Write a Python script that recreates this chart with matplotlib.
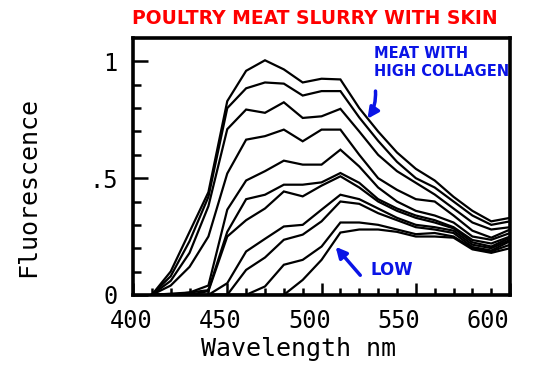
import matplotlib
matplotlib.use("Agg")
import matplotlib.pyplot as plt
import matplotlib.transforms as mtransforms
import numpy as np

# wavelength grid (nm)
wavelength = [410, 420, 430, 440, 450, 460, 470, 480, 490, 500, 510,
              520, 530, 540, 550, 560, 570, 580, 590, 600]

# fluorescence spectra, highest collagen first
c1 = [0, 0.10, 0.27, 0.44, 0.83, 0.96, 1.005, 0.966, 0.91, 0.926, 0.923,
      0.80, 0.70, 0.61, 0.54, 0.49, 0.42, 0.36, 0.315, 0.33]
c2 = [0, 0.08, 0.23, 0.42, 0.80, 0.885, 0.91, 0.905, 0.854, 0.873, 0.873,
      0.76, 0.66, 0.57, 0.50, 0.46, 0.40, 0.34, 0.30, 0.315]
c3 = [0, 0.06, 0.18, 0.38, 0.71, 0.794, 0.78, 0.825, 0.758, 0.765, 0.797,
      0.70, 0.60, 0.53, 0.48, 0.43, 0.37, 0.31, 0.28, 0.29]
c4 = [0, 0.04, 0.12, 0.25, 0.52, 0.665, 0.68, 0.708, 0.658, 0.708, 0.708,
      0.60, 0.50, 0.45, 0.41, 0.40, 0.34, 0.275, 0.245, 0.28]
c5 = [0, 0.005, 0.01, 0.04, 0.365, 0.49, 0.53, 0.575, 0.558, 0.558, 0.622,
      0.55, 0.46, 0.40, 0.36, 0.34, 0.31, 0.25, 0.236, 0.265]
c6 = [0, 0, 0.01, 0.02, 0.27, 0.41, 0.429, 0.472, 0.472, 0.482, 0.522,
      0.48, 0.41, 0.37, 0.34, 0.32, 0.29, 0.235, 0.22, 0.25]
c7 = [0, 0, 0, 0.016, 0.25, 0.32, 0.37, 0.443, 0.422, 0.468, 0.508,
      0.46, 0.40, 0.36, 0.33, 0.31, 0.285, 0.225, 0.207, 0.245]
c8 = [0, 0, 0, 0, 0.05, 0.186, 0.24, 0.293, 0.30, 0.365, 0.429,
      0.41, 0.37, 0.33, 0.30, 0.29, 0.275, 0.215, 0.20, 0.236]
c9 = [0, 0, 0, 0, 0, 0.107, 0.16, 0.236, 0.258, 0.315, 0.40,
      0.39, 0.35, 0.32, 0.29, 0.28, 0.265, 0.205, 0.19, 0.23]
c10 = [0, 0, 0, 0, 0, 0, 0.036, 0.129, 0.15, 0.207, 0.31,
       0.31, 0.30, 0.28, 0.26, 0.265, 0.25, 0.20, 0.186, 0.215]
c11 = [0, 0, 0, 0, 0, 0, 0, 0.0, 0.064, 0.15, 0.267,
       0.28, 0.28, 0.27, 0.25, 0.25, 0.245, 0.195, 0.18, 0.20]

curves = [c1, c2, c3, c4, c5, c6, c7, c8, c9, c10, c11]

x_ticks = [400, 450, 500, 550, 600]
y_ticks = [0, 0.5, 1]
y_ticklabels = ["0", ".5", "1"]

mono = "DejaVu Sans Mono"
blue = "#0a14e6"

fig = plt.figure(figsize=(5.45, 3.89), dpi=100)
ax = fig.add_axes([0.244, 0.242, 0.692, 0.66])

for c in curves:
    ax.plot(wavelength, c, color="black", lw=1.6, solid_joinstyle="miter")

ax.set_xlim(400, 600)
ax.set_ylim(0, 1.1)

ax.set_xticks(x_ticks)
ax.set_xticks(np.arange(400, 601, 10), minor=True)
ax.set_yticks(y_ticks)
ax.set_yticklabels(y_ticklabels)
ax.set_yticks(np.arange(0, 1.1, 0.1), minor=True)

ax.tick_params(which="both", direction="in", width=1.8, top=False, right=False)
ax.tick_params(which="major", axis="x", length=9, pad=10)
ax.tick_params(which="minor", axis="x", length=5)
ax.tick_params(which="major", axis="y", length=11, pad=11)
ax.tick_params(which="minor", axis="y", length=6)

for lab in ax.get_xticklabels() + ax.get_yticklabels():
    lab.set_family(mono)
    lab.set_fontsize(17)

# the old plotter drew the x labels drifting left of their ticks
for i, lab in enumerate(ax.get_xticklabels()):
    shift = mtransforms.ScaledTranslation(-(2 + 5 * i) / 100, 0, fig.dpi_scale_trans)
    lab.set_transform(lab.get_transform() + shift)

for sp in ax.spines.values():
    sp.set_linewidth(2.6)

fig.text(0.548, 0.104, "Wavelength nm", family=mono, fontsize=18,
         ha="center", va="center")
fig.text(0.052, 0.52, "Fluorescence", family=mono, fontsize=18,
         rotation=90, ha="center", va="center")

fig.text(0.578, 0.953, "POULTRY MEAT SLURRY WITH SKIN", color="red",
         fontsize=13.5, fontweight="bold", ha="center", va="center")

ax.text(528, 0.995, "MEAT WITH\nHIGH COLLAGEN", color=blue, fontsize=10.5,
        fontweight="bold", ha="left", va="center", linespacing=1.3)
ax.annotate("", xy=(523.5, 0.745), xytext=(528.5, 0.885),
            arrowprops=dict(arrowstyle="-|>", color=blue, lw=2.5,
                            mutation_scale=16, connectionstyle="arc3,rad=-0.2"))
ax.text(537.5, 0.107, "LOW", color=blue, fontsize=12, fontweight="bold",
        ha="center", va="center")
ax.annotate("", xy=(506.5, 0.215), xytext=(521.5, 0.075),
            arrowprops=dict(arrowstyle="-|>", color=blue, lw=2.5,
                            mutation_scale=16))

fig.savefig("out.png", dpi=100)
